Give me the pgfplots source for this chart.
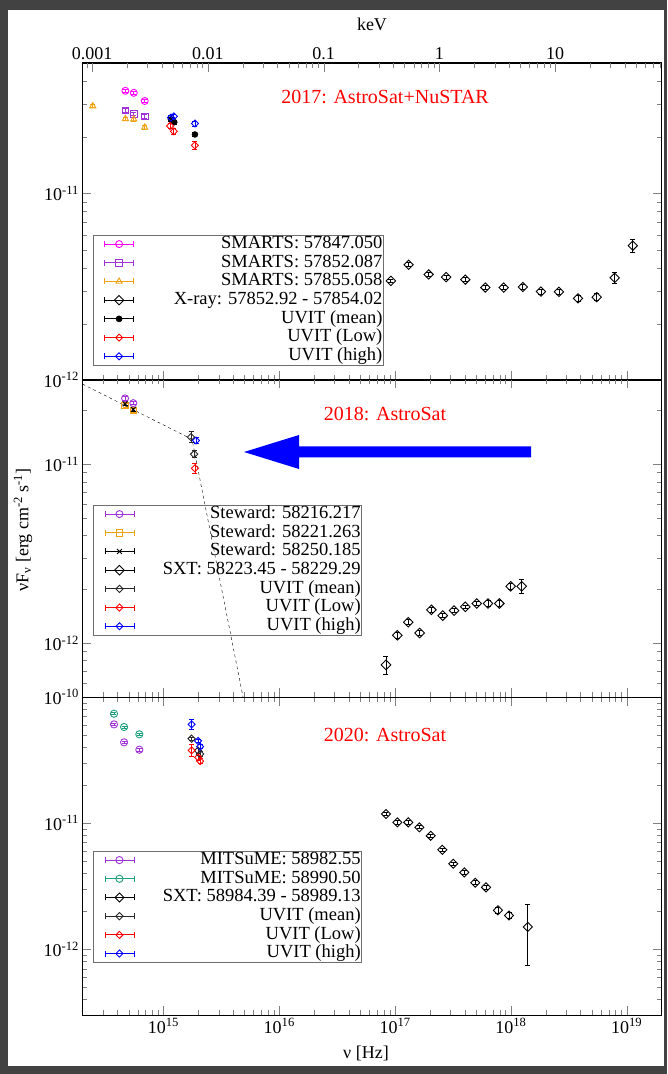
\documentclass[border=0pt]{standalone}
\usepackage{fontspec}
\setmainfont{Liberation Serif}
\usepackage{pgfplots}
\pgfplotsset{compat=1.18}

\definecolor{bgdark}{RGB}{66,66,66}
\definecolor{smA}{RGB}{255,0,255}
\definecolor{smB}{RGB}{160,50,215}
\definecolor{smC}{RGB}{240,160,20}
\definecolor{mitsu}{RGB}{30,160,125}
\definecolor{uvlow}{RGB}{255,0,0}
\definecolor{uvhigh}{RGB}{0,0,255}
\definecolor{uvmean}{RGB}{40,40,40}
\definecolor{legframe}{RGB}{110,110,110}

\newcommand\tfont{\fontsize{18}{20}\selectfont}
\newcommand\lfont{\fontsize{18.5}{20}\selectfont}
\newcommand\ttlfont{\fontsize{20}{24}\selectfont}

\pgfplotsset{
  sedleg/.style 2 args={legend image code/.code={%
    \path (0pt,-1pt) (40pt,1pt);
    \draw[#1, line width=0.8pt] (10pt,0pt) -- (39pt,0pt)
      (10pt,-3pt) -- (10pt,3pt) (39pt,-3pt) -- (39pt,3pt);
    \draw[#1, only marks, #2] plot coordinates {(24.5pt,0pt)};
  }},
  sederr/.style={error bars/.cd, y dir=both, y explicit,
    error bar style={line width=0.8pt},
    error mark options={rotate=90, mark size=2.5pt, line width=0.8pt}},
}

\begin{document}
\begin{tikzpicture}
% frame
\fill[bgdark] (0pt,0pt) rectangle (667pt,1074pt);
\fill[white] (8pt,8pt) rectangle (664pt,1064pt);

% ---------------- 2017 ----------------
\begin{axis}[at={(82.5pt,694pt)}, anchor=south west,
  scale only axis, width=579pt, height=317pt,
  xmode=log, ymode=log, xmin=2e14, xmax=2e19, ymin=1e-12, ymax=5e-11,
  tick align=inside, major tick length=9pt, minor tick length=5pt,
  axis line style={line width=1pt},
  xtick={1e15,1e16,1e17,1e18,1e19}, xticklabels={},
  minor xtick={2e14,3e14,4e14,5e14,6e14,7e14,8e14,9e14,
               2e15,3e15,4e15,5e15,6e15,7e15,8e15,9e15,
               2e16,3e16,4e16,5e16,6e16,7e16,8e16,9e16,
               2e17,3e17,4e17,5e17,6e17,7e17,8e17,9e17,
               2e18,3e18,4e18,5e18,6e18,7e18,8e18,9e18},
  xtick pos=left, ytick pos=both, yticklabel pos=left,
  tick label style={font=\tfont},
  ytick={1e-12,1e-11}, yticklabels={10\textsuperscript{-12},10\textsuperscript{-11}},
  minor ytick={2e-12,3e-12,4e-12,5e-12,6e-12,7e-12,8e-12,9e-12,2e-11,3e-11,4e-11},
  legend cell align=right,
  legend style={at={(0.0181,0.4574)}, anchor=north west,
    draw=legframe, line width=0.6pt, fill=none,
    inner xsep=1pt, inner ysep=0pt, row sep=1.2pt, column sep=38.9pt,
    nodes={inner sep=0pt, text height=13pt, text depth=4.5pt, font=\lfont}}]
\addplot[smA, only marks, mark=o, mark size=3.5pt, mark options={line width=0.9pt},
  sedleg={smA}{mark=o, mark size=3.5pt, mark options={line width=0.9pt}}, sederr]
 table[x index=0, y index=1, y error index=2]{
x y e
4.69e14 3.55e-11 0.06e-11
5.54e14 3.46e-11 0.06e-11
6.89e14 3.13e-11 0.06e-11
};
\addlegendentry{SMARTS: 57847.050}
\addplot[smB, only marks, mark=square, mark size=3.3pt, mark options={line width=0.9pt},
  sedleg={smB}{mark=square, mark size=3.3pt, mark options={line width=0.9pt}}, sederr]
 table[x index=0, y index=1, y error index=2]{
x y e
4.69e14 2.79e-11 0.06e-11
5.54e14 2.67e-11 0.06e-11
6.89e14 2.59e-11 0.06e-11
};
\addlegendentry{SMARTS: 57852.087}
\addplot[smC, only marks, mark=triangle, mark size=3.5pt, mark options={line width=0.9pt},
  sedleg={smC}{mark=triangle, mark size=3.5pt, mark options={line width=0.9pt}}, sederr]
 table[x index=0, y index=1, y error index=2]{
x y e
2.45e14 2.94e-11 0.06e-11
4.69e14 2.51e-11 0.06e-11
5.54e14 2.50e-11 0.06e-11
6.89e14 2.26e-11 0.06e-11
};
\addlegendentry{SMARTS: 57855.058}
\addplot[black, only marks, mark=square, mark size=3.3pt, mark options={rotate=45, line width=0.9pt},
  sedleg={black}{mark=square, mark size=3.3pt, mark options={rotate=45, line width=0.9pt}}, sederr]
 table[x index=0, y index=1, y error index=2]{
x y e
9.2e16 3.40e-12 0.08e-12
1.31e17 4.15e-12 0.10e-12
1.95e17 3.68e-12 0.09e-12
2.76e17 3.56e-12 0.09e-12
4.04e17 3.45e-12 0.09e-12
6.02e17 3.13e-12 0.08e-12
8.67e17 3.13e-12 0.08e-12
1.27e18 3.15e-12 0.09e-12
1.82e18 2.98e-12 0.09e-12
2.60e18 2.97e-12 0.09e-12
3.80e18 2.74e-12 0.10e-12
5.51e18 2.78e-12 0.12e-12
7.88e18 3.53e-12 0.24e-12
1.13e19 5.25e-12 0.40e-12
};
\addlegendentry{X-ray: 57852.92 - 57854.02}
\addplot[black, only marks, mark=*, mark size=3pt, mark options={fill=black},
  sedleg={black}{mark=*, mark size=3pt, mark options={fill=black}}, sederr]
 table[x index=0, y index=1, y error index=2]{
x y e
1.16e15 2.49e-11 0.06e-11
1.24e15 2.41e-11 0.06e-11
1.87e15 2.07e-11 0.06e-11
};
\addlegendentry{UVIT (mean)}
\addplot[uvlow, only marks, mark=square, mark size=2.5pt, mark options={rotate=45, line width=0.9pt},
  sedleg={uvlow}{mark=square, mark size=2.5pt, mark options={rotate=45, line width=0.9pt}}, sederr]
 table[x index=0, y index=1, y error index=2]{
x y e
1.14e15 2.30e-11 0.06e-11
1.23e15 2.15e-11 0.07e-11
1.87e15 1.81e-11 0.08e-11
};
\addlegendentry{UVIT (Low)}
\addplot[uvhigh, only marks, mark=square, mark size=2.5pt, mark options={rotate=45, line width=0.9pt},
  sedleg={uvhigh}{mark=square, mark size=2.5pt, mark options={rotate=45, line width=0.9pt}}, sederr]
 table[x index=0, y index=1, y error index=2]{
x y e
1.16e15 2.55e-11 0.06e-11
1.23e15 2.59e-11 0.06e-11
1.87e15 2.37e-11 0.07e-11
};
\addlegendentry{UVIT (high)}
\node[text=red, font=\ttlfont] at (rel axis cs:0.5225,0.893) {2017: AstroSat+NuSTAR};
\end{axis}

% energy scale along the top
\begin{axis}[at={(82.5pt,694pt)}, anchor=south west,
  scale only axis, width=579pt, height=317pt,
  xmode=log, xmin=8.2713e-4, xmax=82.713, ymin=0, ymax=1,
  axis x line*=top, hide y axis,
  tick align=inside, major tick length=9pt, minor tick length=5pt,
  axis line style={line width=1pt},
  xtick={0.001,0.01,0.1,1,10}, xticklabels={0.001,0.01,0.1,1,10},
  minor xtick={9e-4,2e-3,3e-3,4e-3,5e-3,6e-3,7e-3,8e-3,9e-3,
               2e-2,3e-2,4e-2,5e-2,6e-2,7e-2,8e-2,9e-2,
               0.2,0.3,0.4,0.5,0.6,0.7,0.8,0.9,
               2,3,4,5,6,7,8,9,20,30,40,50,60,70,80},
  tick label style={font=\tfont},
  xlabel={keV}, xlabel style={font=\tfont, yshift=10pt}]
\addplot[draw=none, mark=none, forget plot] coordinates {(0.01,0.5) (1,0.5)};
\end{axis}

% ---------------- 2018 ----------------
\begin{axis}[at={(82.5pt,377pt)}, anchor=south west,
  scale only axis, width=579pt, height=318pt,
  xmode=log, ymode=log, xmin=2e14, xmax=2e19, ymin=5e-13, ymax=3e-11,
  tick align=inside, major tick length=9pt, minor tick length=5pt,
  axis line style={line width=1pt},
  xtick={1e15,1e16,1e17,1e18,1e19}, xticklabels={},
  minor xtick={2e14,3e14,4e14,5e14,6e14,7e14,8e14,9e14,
               2e15,3e15,4e15,5e15,6e15,7e15,8e15,9e15,
               2e16,3e16,4e16,5e16,6e16,7e16,8e16,9e16,
               2e17,3e17,4e17,5e17,6e17,7e17,8e17,9e17,
               2e18,3e18,4e18,5e18,6e18,7e18,8e18,9e18},
  xtick pos=both, ytick pos=both, yticklabel pos=left,
  tick label style={font=\tfont},
  ytick={1e-12,1e-11}, yticklabels={10\textsuperscript{-12},10\textsuperscript{-11}},
  minor ytick={6e-13,7e-13,8e-13,9e-13,2e-12,3e-12,4e-12,5e-12,6e-12,7e-12,8e-12,9e-12,2e-11},
  legend cell align=right,
  legend style={at={(0.0187,0.6038)}, anchor=north west,
    draw=legframe, line width=0.6pt, fill=none,
    inner xsep=1pt, inner ysep=0pt, row sep=1.2pt, column sep=27.5pt,
    nodes={inner sep=0pt, text height=13pt, text depth=4.5pt, font=\lfont}}]
% broken power law
\addplot[black, thin, dash pattern=on 3pt off 3pt, forget plot]
  coordinates {(2e14,2.81e-11) (1.764e15,1.38e-11) (5.62e15,3.12e-13)};
\addplot[smB, only marks, mark=o, mark size=3.5pt, mark options={line width=0.9pt},
  sedleg={smB}{mark=o, mark size=3.5pt, mark options={line width=0.9pt}}, sederr]
 table[x index=0, y index=1, y error index=2]{
x y e
4.66e14 2.34e-11 0.05e-11
5.49e14 2.20e-11 0.05e-11
};
\addlegendentry{Steward: 58216.217}
\addplot[smC, only marks, mark=square, mark size=3.3pt, mark options={line width=0.9pt},
  sedleg={smC}{mark=square, mark size=3.3pt, mark options={line width=0.9pt}}, sederr]
 table[x index=0, y index=1, y error index=2]{
x y e
4.66e14 2.14e-11 0.05e-11
5.49e14 2.00e-11 0.05e-11
};
\addlegendentry{Steward: 58221.263}
\addplot[black, only marks, mark=x, mark size=3.5pt, mark options={line width=0.9pt},
  sedleg={black}{mark=x, mark size=3.5pt, mark options={line width=0.9pt}}, sederr]
 table[x index=0, y index=1, y error index=2]{
x y e
4.66e14 2.18e-11 0.05e-11
5.49e14 2.03e-11 0.05e-11
};
\addlegendentry{Steward: 58250.185}
\addplot[black, only marks, mark=square, mark size=3.4pt, mark options={rotate=45, line width=0.9pt},
  sedleg={black}{mark=square, mark size=3.4pt, mark options={rotate=45, line width=0.9pt}}, sederr]
 table[x index=0, y index=1, y error index=2]{
x y e
8.35e16 7.56e-13 0.83e-13
1.046e17 1.107e-12 0.04e-12
1.30e17 1.31e-12 0.04e-12
1.63e17 1.14e-12 0.04e-12
2.06e17 1.536e-12 0.04e-12
2.58e17 1.427e-12 0.04e-12
3.23e17 1.522e-12 0.04e-12
4.04e17 1.597e-12 0.04e-12
5.07e17 1.667e-12 0.05e-12
6.35e17 1.667e-12 0.06e-12
7.95e17 1.667e-12 0.07e-12
9.97e17 2.08e-12 0.08e-12
1.24e18 2.08e-12 0.18e-12
};
\addlegendentry{SXT: 58223.45 - 58229.29}
\addplot[uvmean, only marks, mark=square, mark size=2.6pt, mark options={rotate=45, line width=0.9pt},
  sedleg={uvmean}{mark=square, mark size=2.6pt, mark options={rotate=45, line width=0.9pt}}, sederr]
 table[x index=0, y index=1, y error index=2]{
x y e
1.73e15 1.42e-11 0.10e-11
1.84e15 1.14e-11 0.05e-11
};
\addlegendentry{UVIT (mean)}
\addplot[uvlow, only marks, mark=square, mark size=2.5pt, mark options={rotate=45, line width=0.9pt},
  sedleg={uvlow}{mark=square, mark size=2.5pt, mark options={rotate=45, line width=0.9pt}}, sederr]
 table[x index=0, y index=1, y error index=2]{
x y e
1.87e15 9.5e-12 0.6e-12
};
\addlegendentry{UVIT (Low)}
\addplot[uvhigh, only marks, mark=square, mark size=2.5pt, mark options={rotate=45, line width=0.9pt},
  sedleg={uvhigh}{mark=square, mark size=2.5pt, mark options={rotate=45, line width=0.9pt}}, sederr]
 table[x index=0, y index=1, y error index=2]{
x y e
1.91e15 1.36e-11 0.05e-11
};
\addlegendentry{UVIT (high)}
\node[text=red, font=\ttlfont] at (rel axis cs:0.5225,0.89) {2018: AstroSat};
\end{axis}

% ---------------- 2020 ----------------
\begin{axis}[at={(82.5pt,59pt)}, anchor=south west,
  scale only axis, width=579pt, height=318pt,
  xmode=log, ymode=log, xmin=2e14, xmax=2e19, ymin=3e-13, ymax=1e-10,
  tick align=inside, major tick length=9pt, minor tick length=5pt,
  axis line style={line width=1pt},
  xtick={1e15,1e16,1e17,1e18,1e19},
  xticklabels={10\textsuperscript{15},10\textsuperscript{16},10\textsuperscript{17},10\textsuperscript{18},10\textsuperscript{19}},
  minor xtick={2e14,3e14,4e14,5e14,6e14,7e14,8e14,9e14,
               2e15,3e15,4e15,5e15,6e15,7e15,8e15,9e15,
               2e16,3e16,4e16,5e16,6e16,7e16,8e16,9e16,
               2e17,3e17,4e17,5e17,6e17,7e17,8e17,9e17,
               2e18,3e18,4e18,5e18,6e18,7e18,8e18,9e18},
  xtick pos=both, ytick pos=both, yticklabel pos=left, xticklabel pos=left,
  tick label style={font=\tfont},
  ytick={1e-12,1e-11,1e-10},
  yticklabels={10\textsuperscript{-12},10\textsuperscript{-11},10\textsuperscript{-10}},
  minor ytick={3e-13,4e-13,5e-13,6e-13,7e-13,8e-13,9e-13,
               2e-12,3e-12,4e-12,5e-12,6e-12,7e-12,8e-12,9e-12,
               2e-11,3e-11,4e-11,5e-11,6e-11,7e-11,8e-11,9e-11},
  legend cell align=right,
  legend style={at={(0.0187,0.5157)}, anchor=north west,
    draw=legframe, line width=0.6pt, fill=none,
    inner xsep=1pt, inner ysep=0pt, row sep=1.2pt, column sep=27.5pt,
    nodes={inner sep=0pt, text height=13pt, text depth=4.5pt, font=\lfont}}]
\addplot[smB, only marks, mark=o, mark size=3.6pt, mark options={line width=0.9pt},
  sedleg={smB}{mark=o, mark size=3.6pt, mark options={line width=0.9pt}}, sederr]
 table[x index=0, y index=1, y error index=2]{
x y e
3.74e14 6.07e-11 0.12e-11
4.57e14 4.37e-11 0.10e-11
6.19e14 3.82e-11 0.10e-11
};
\addlegendentry{MITSuME: 58982.55}
\addplot[mitsu, only marks, mark=o, mark size=3.6pt, mark options={line width=0.9pt},
  sedleg={mitsu}{mark=o, mark size=3.6pt, mark options={line width=0.9pt}}, sederr]
 table[x index=0, y index=1, y error index=2]{
x y e
3.74e14 7.37e-11 0.12e-11
4.57e14 5.78e-11 0.12e-11
6.19e14 5.06e-11 0.10e-11
};
\addlegendentry{MITSuME: 58990.50}
\addplot[black, only marks, mark=square, mark size=3.2pt, mark options={rotate=45, line width=0.9pt},
  sedleg={black}{mark=square, mark size=3.2pt, mark options={rotate=45, line width=0.9pt}}, sederr]
 table[x index=0, y index=1, y error index=2]{
x y e
8.35e16 1.179e-11 0.03e-11
1.046e17 1.013e-11 0.03e-11
1.30e17 1.013e-11 0.03e-11
1.62e17 9.25e-12 0.25e-12
2.03e17 7.93e-12 0.22e-12
2.56e17 6.14e-12 0.18e-12
3.18e17 4.75e-12 0.15e-12
3.96e17 4.06e-12 0.13e-12
4.93e17 3.36e-12 0.12e-12
6.10e17 3.09e-12 0.12e-12
7.74e17 2.03e-12 0.11e-12
9.64e17 1.85e-12 0.11e-12
1.40e18 1.50e-12 0.76e-12
};
\addlegendentry{SXT: 58984.39 - 58989.13}
\addplot[uvmean, only marks, mark=square, mark size=2.6pt, mark options={rotate=45, line width=0.9pt},
  sedleg={uvmean}{mark=square, mark size=2.6pt, mark options={rotate=45, line width=0.9pt}}, sederr]
 table[x index=0, y index=1, y error index=2]{
x y e
1.75e15 4.67e-11 0.15e-11
1.99e15 3.75e-11 0.15e-11
2.07e15 3.53e-11 0.15e-11
};
\addlegendentry{UVIT (mean)}
\addplot[uvlow, only marks, mark=square, mark size=2.5pt, mark options={rotate=45, line width=0.9pt},
  sedleg={uvlow}{mark=square, mark size=2.5pt, mark options={rotate=45, line width=0.9pt}}, sederr]
 table[x index=0, y index=1, y error index=2]{
x y e
1.75e15 3.77e-11 0.40e-11
1.99e15 3.32e-11 0.15e-11
2.07e15 3.10e-11 0.15e-11
};
\addlegendentry{UVIT (Low)}
\addplot[uvhigh, only marks, mark=square, mark size=2.5pt, mark options={rotate=45, line width=0.9pt},
  sedleg={uvhigh}{mark=square, mark size=2.5pt, mark options={rotate=45, line width=0.9pt}}, sederr]
 table[x index=0, y index=1, y error index=2]{
x y e
1.75e15 6.07e-11 0.56e-11
1.99e15 4.48e-11 0.15e-11
2.07e15 4.04e-11 0.15e-11
};
\addlegendentry{UVIT (high)}
\node[text=red, font=\ttlfont] at (rel axis cs:0.5225,0.88) {2020: AstroSat};
\end{axis}

% axis titles
\node[rotate=90, font=\tfont] at (23pt,544pt)
  {νF\textsubscript{ν} [erg cm\textsuperscript{-2} s\textsuperscript{-1}]};
\node[font=\tfont] at (366pt,21pt) {ν [Hz]};

% arrow
\fill[uvhigh] (244pt,622pt) -- (299pt,639pt) -- (299pt,627.5pt) -- (531pt,627.5pt)
  -- (531pt,616.5pt) -- (299pt,616.5pt) -- (299pt,605pt) -- cycle;
\end{tikzpicture}
\end{document}
